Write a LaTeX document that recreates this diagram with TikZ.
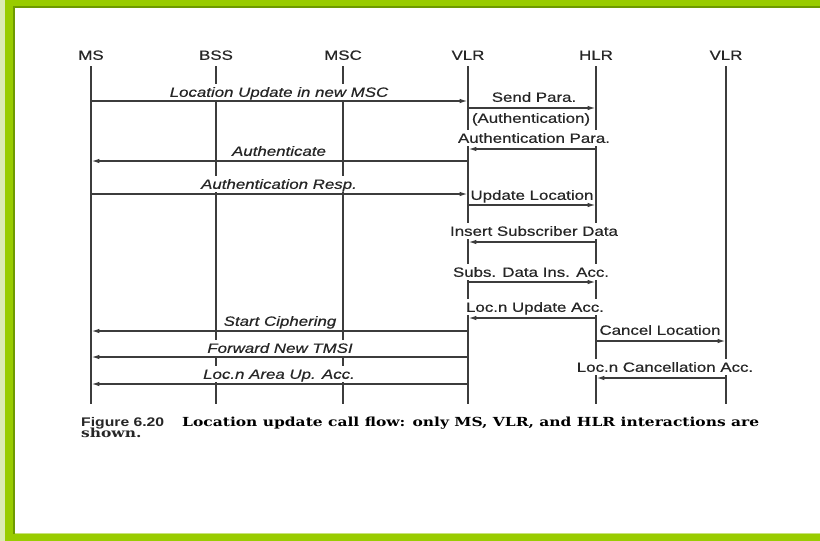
\documentclass[tikz,border=0pt]{standalone}
\usepackage{fontspec}
\usepackage{graphicx}
\setmainfont{Liberation Sans}
\newfontfamily\lblfont[FakeStretch=1.25,FakeBold=0.5]{Liberation Sans}
\newfontfamily\capserif{DejaVu Serif}
\usetikzlibrary{arrows.meta}
\definecolor{frame}{HTML}{99CC00}
\definecolor{framedark}{HTML}{6E9A00}
\definecolor{framepale}{HTML}{DCEBB4}
\definecolor{framelight}{HTML}{C8E27A}
\definecolor{ink}{HTML}{262626}
\definecolor{wire}{HTML}{3C3C3C}
\newsavebox\capbox
\tikzset{
  lifeline/.style={draw=wire, line width=1.4pt},
  msg/.style={draw=wire, line width=1.15pt, shorten >=0.8pt,
              -{Latex[length=7.5pt,width=4.5pt]}},
  lab/.style={font=\lblfont\fontsize{13.5}{14}\selectfont, text=ink,
              fill=white, inner xsep=1.5pt, inner ysep=3.5pt,
              text height=9.7pt, text depth=0pt},
  ilab/.style={lab, font=\lblfont\fontsize{13.5}{14}\selectfont\itshape},
  hdr/.style={font=\lblfont\fontsize{13.5}{14}\selectfont, text=ink,
              inner sep=0pt, text height=9.7pt, text depth=0pt},
  captxt/.style={text=ink, inner sep=0pt, anchor=base west}
}
\begin{document}
\sbox\capbox{\capserif\bfseries\fontsize{12.5}{13}\selectfont Location update call flow: only MS, VLR, and HLR interactions are}%
\pgfmathsetmacro\capscale{577/\wd\capbox}%
\begin{tikzpicture}[x=1pt,y=-1pt]
\useasboundingbox (0,0) rectangle (820,541);
\fill[white] (0,0) rectangle (820,541);
% frame
\fill[framepale] (0,0) rectangle (5,541);
\fill[frame] (5,0) rectangle (820,7);
\fill[frame] (5,0) rectangle (13,541);
\fill[frame] (5,534) rectangle (820,541);
\fill[framelight] (13,532.6) rectangle (820,534);
\fill[framedark] (13,6) rectangle (820,7.6);
\fill[framedark] (12.6,6) rectangle (15,534);

% columns
\def\xMS{91}\def\xBSS{216}\def\xMSC{343}\def\xVLR{468}\def\xHLR{596}\def\xVLRb{726}
\def\ytop{66}\def\ybot{404}

% headers
\node[hdr] (hMS)   at (\xMS,55)  {MS};
\node[hdr] (hBSS)  at (\xBSS,55) {BSS};
\node[hdr] (hMSC)  at (\xMSC,55) {MSC};
\node[hdr] (hVLR)  at (\xVLR,55) {VLR};
\node[hdr] (hHLR)  at (\xHLR,55) {HLR};
\node[hdr] (hVLRb) at (\xVLRb,55) {VLR};

% lifelines
\foreach \n/\x in {MS/\xMS,BSS/\xBSS,MSC/\xMSC,VLR/\xVLR,HLR/\xHLR,VLRb/\xVLRb}{
  \coordinate (t\n) at (\x,\ytop);
  \coordinate (b\n) at (\x,\ybot);
  \draw[lifeline] (t\n) -- (b\n);
}

% labels
\node[ilab] (l1)  at (279,92)  {Location Update in new MSC};
\node[lab]  (l2)  at (534,97)  {Send Para.};
\node[lab]  (l3)  at (531,118) {(Authentication)};
\node[lab]  (l4)  at (534,138) {Authentication Para.};
\node[ilab] (l5)  at (279,151) {Authenticate};
\node[ilab] (l6)  at (279,184) {Authentication Resp.};
\node[lab]  (l7)  at (532,195) {Update Location};
\node[lab]  (l8)  at (534,231) {Insert Subscriber Data};
\node[lab]  (l9)  at (531,272) {Subs. Data Ins. Acc.};
\node[lab]  (l10) at (535,307) {Loc.n Update Acc.};
\node[lab]  (l11) at (660,330) {Cancel Location};
\node[lab]  (l12) at (665,367) {Loc.n Cancellation Acc.};
\node[ilab] (l13) at (280,321) {Start Ciphering};
\node[ilab] (l14) at (280,348) {Forward New TMSI};
\node[ilab] (l15) at (279,374) {Loc.n Area Up. Acc.};

% message end points
\foreach \i/\a/\b/\y in {
  1/\xMS/\xVLR/101, 2/\xVLR/\xHLR/108, 4/\xHLR/\xVLR/149,
  5/\xVLR/\xMS/161, 6/\xMS/\xVLR/194, 7/\xVLR/\xHLR/205,
  8/\xHLR/\xVLR/242, 9/\xVLR/\xHLR/282, 10/\xHLR/\xVLR/318,
  11/\xHLR/\xVLRb/341, 12/\xVLRb/\xHLR/378,
  13/\xVLR/\xMS/331, 14/\xVLR/\xMS/357, 15/\xVLR/\xMS/384}{
  \coordinate (s\i) at (\a,\y);
  \coordinate (e\i) at (\b,\y);
  \draw[msg] (s\i) -- (e\i);
}

% caption
\node[captxt] (cfig) at (81,426) {\resizebox{83pt}{\height}{\bfseries\fontsize{12.5}{13}\selectfont Figure 6.20}};
\node[captxt] (cl1) at (182,426) {\scalebox{\capscale}[1]{\usebox\capbox}};
\node[captxt] (cl2) at (81,437.5) {\scalebox{\capscale}[1]{\capserif\bfseries\fontsize{12.5}{13}\selectfont shown.}};
\end{tikzpicture}
\end{document}
